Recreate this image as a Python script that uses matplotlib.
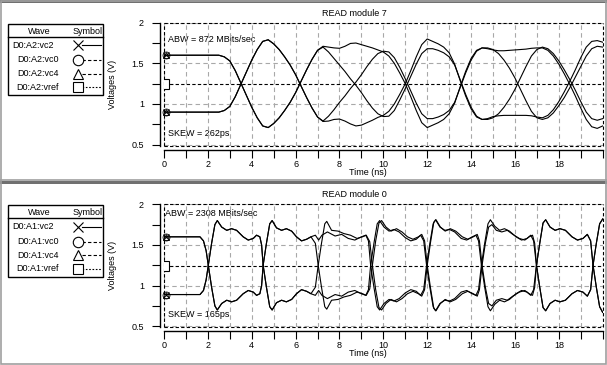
import numpy as np
import matplotlib.pyplot as plt
from matplotlib.patches import Rectangle

plt.rcParams['font.family'] = ['Liberation Sans', 'DejaVu Sans']
plt.rcParams['font.size'] = 6.5

# ---------------- READ module 7 (upper window), one sample every 0.25 ns ----------------
t_m7 = np.linspace(0, 20, 81)
m7_p1 = [1.60, 1.60, 1.60, 1.60, 1.60, 1.60, 1.60, 1.60, 1.60, 1.60, 1.60,
         1.58, 1.53, 1.41, 1.26, 1.11, 0.96, 0.83, 0.73, 0.71, 0.76, 0.83, 0.92,
         1.02, 1.14, 1.28, 1.42, 1.55, 1.66, 1.71, 1.70, 1.69, 1.685, 1.71, 1.745,
         1.75, 1.73, 1.71, 1.69, 1.665, 1.64, 1.59, 1.50, 1.38, 1.25, 1.09, 0.92,
         0.77, 0.71, 0.74, 0.77, 0.81, 0.88, 1.01, 1.21, 1.40, 1.56, 1.66, 1.69,
         1.68, 1.665, 1.655, 1.655, 1.66, 1.665, 1.67, 1.675, 1.685, 1.69, 1.69, 1.66,
         1.59, 1.49, 1.37, 1.24, 1.10, 0.95, 0.81, 0.72, 0.70, 0.73]
m7_n1 = [0.90, 0.90, 0.90, 0.90, 0.90, 0.90, 0.90, 0.90, 0.90, 0.90, 0.90,
         0.92, 0.97, 1.09, 1.24, 1.39, 1.54, 1.67, 1.77, 1.79, 1.74, 1.67, 1.58,
         1.48, 1.36, 1.22, 1.08, 0.95, 0.84, 0.785, 0.79, 0.81, 0.815, 0.79, 0.755,
         0.73, 0.74, 0.77, 0.80, 0.835, 0.86, 0.91, 1.00, 1.12, 1.25, 1.41, 1.58,
         1.73, 1.80, 1.77, 1.74, 1.70, 1.63, 1.49, 1.29, 1.10, 0.94, 0.84, 0.81,
         0.82, 0.845, 0.855, 0.86, 0.86, 0.86, 0.86, 0.86, 0.855, 0.84, 0.83, 0.86,
         0.93, 1.03, 1.15, 1.28, 1.42, 1.57, 1.70, 1.77, 1.78, 1.76]
m7_p2 = [1.60, 1.60, 1.60, 1.60, 1.60, 1.60, 1.60, 1.60, 1.60, 1.60, 1.60,
         1.58, 1.53, 1.41, 1.26, 1.11, 0.96, 0.83, 0.73, 0.71, 0.76, 0.83, 0.92,
         1.02, 1.14, 1.28, 1.42, 1.55, 1.66, 1.70, 1.64, 1.56, 1.48, 1.40, 1.31,
         1.23, 1.14, 1.04, 0.95, 0.88, 0.845, 0.85, 0.92, 1.05, 1.19, 1.34, 1.49,
         1.62, 1.68, 1.68, 1.66, 1.63, 1.58, 1.48, 1.30, 1.12, 0.96, 0.85, 0.81,
         0.81, 0.83, 0.88, 0.96, 1.06, 1.18, 1.32, 1.46, 1.59, 1.67, 1.70, 1.68,
         1.62, 1.53, 1.42, 1.30, 1.17, 1.03, 0.90, 0.82, 0.80, 0.82]
m7_n2 = [0.90, 0.90, 0.90, 0.90, 0.90, 0.90, 0.90, 0.90, 0.90, 0.90, 0.90,
         0.92, 0.97, 1.09, 1.24, 1.39, 1.54, 1.67, 1.77, 1.79, 1.74, 1.67, 1.58,
         1.48, 1.36, 1.22, 1.08, 0.95, 0.84, 0.79, 0.85, 0.93, 1.02, 1.10, 1.19,
         1.27, 1.36, 1.46, 1.55, 1.62, 1.65, 1.64, 1.57, 1.45, 1.31, 1.16, 1.01,
         0.88, 0.82, 0.82, 0.84, 0.87, 0.92, 1.02, 1.20, 1.38, 1.54, 1.65, 1.69,
         1.69, 1.67, 1.62, 1.54, 1.44, 1.32, 1.18, 1.04, 0.91, 0.83, 0.81, 0.83,
         0.89, 0.98, 1.08, 1.20, 1.33, 1.46, 1.59, 1.68, 1.71, 1.70]

# ---------------- READ module 0 (lower window), knots ----------------
t_m0_1 = [0, 1.64, 1.80, 1.92, 2.02, 2.17, 2.32, 2.43, 2.63, 2.86, 3.08, 3.31, 3.61, 3.84, 4.07, 4.22, 4.37, 4.45,
          4.52, 4.67, 4.82, 4.93, 5.13, 5.36, 5.58, 5.82, 6.04, 6.27, 6.50, 6.70, 6.90, 7.05, 7.20, 7.45, 7.80,
          8.10, 8.40, 8.70, 9.00, 9.20, 9.32,
          9.42, 9.57, 9.72, 9.83, 10.03, 10.26, 10.48, 10.72, 11.00, 11.25, 11.50, 11.70, 11.84,
          11.97, 12.12, 12.27, 12.38, 12.58, 12.80, 13.02, 13.25, 13.55, 13.80, 14.05, 14.22, 14.34,
          14.47, 14.62, 14.77, 14.88, 15.08, 15.30, 15.52, 15.75, 16.05, 16.30, 16.55, 16.72, 16.85,
          16.98, 17.13, 17.28, 17.40, 17.60, 17.83, 18.05, 18.30, 18.60, 18.85, 19.10, 19.30, 19.45,
          19.56, 19.71, 19.86, 20.00]
m0_p1 = [1.60, 1.60, 1.55, 1.43, 1.25, 0.98, 0.75, 0.70, 0.78, 0.82, 0.80, 0.82, 0.90, 0.94, 0.92, 0.88, 0.90, 1.00,
         1.25, 1.52, 1.76, 1.80, 1.71, 1.68, 1.70, 1.67, 1.60, 1.55, 1.57, 1.60, 1.62, 1.56, 1.62, 1.66, 1.61,
         1.63, 1.58, 1.56, 1.60, 1.62, 1.55,
         1.25, 0.98, 0.74, 0.70, 0.78, 0.83, 0.81, 0.84, 0.91, 0.95, 0.93, 0.88, 0.95,
         1.25, 1.52, 1.76, 1.81, 1.72, 1.68, 1.69, 1.66, 1.58, 1.56, 1.60, 1.62, 1.55,
         1.25, 0.98, 0.74, 0.69, 0.77, 0.82, 0.80, 0.83, 0.90, 0.94, 0.92, 0.88, 0.95,
         1.25, 1.52, 1.77, 1.81, 1.72, 1.68, 1.70, 1.68, 1.60, 1.56, 1.58, 1.63, 1.55,
         1.25, 0.98, 0.74, 0.67]
m0_n1 = [0.89, 0.89, 0.94, 1.07, 1.25, 1.52, 1.75, 1.80, 1.72, 1.68, 1.70, 1.68, 1.60, 1.56, 1.58, 1.62, 1.60, 1.50,
         1.25, 0.98, 0.74, 0.70, 0.79, 0.82, 0.80, 0.83, 0.90, 0.95, 0.93, 0.90, 0.88, 0.94, 0.88, 0.84, 0.89,
         0.87, 0.92, 0.94, 0.90, 0.88, 0.95,
         1.25, 1.52, 1.76, 1.80, 1.72, 1.67, 1.69, 1.66, 1.59, 1.55, 1.57, 1.62, 1.55,
         1.25, 0.98, 0.74, 0.69, 0.78, 0.82, 0.81, 0.84, 0.92, 0.94, 0.90, 0.88, 0.95,
         1.25, 1.52, 1.76, 1.81, 1.73, 1.68, 1.70, 1.67, 1.60, 1.56, 1.58, 1.62, 1.55,
         1.25, 0.98, 0.73, 0.69, 0.78, 0.82, 0.80, 0.82, 0.90, 0.94, 0.92, 0.87, 0.95,
         1.25, 1.52, 1.76, 1.82]
t_m0_2 = [0, 1.64, 1.80, 1.92, 2.02, 2.17, 2.32, 2.43, 2.63, 2.86, 3.08, 3.31, 3.61, 3.84, 4.07, 4.22, 4.37, 4.45,
          4.52, 4.67, 4.82, 4.93, 5.13, 5.36, 5.58, 5.82, 6.04, 6.27, 6.50, 6.70, 6.90,
          7.03, 7.18, 7.33, 7.42, 7.64, 7.94, 8.20, 8.50, 8.80, 9.05, 9.22, 9.38,
          9.50, 9.65, 9.80, 9.92, 10.12, 10.35, 10.60, 10.85, 11.10, 11.35, 11.60, 11.75, 11.88,
          12.00, 12.15, 12.30, 12.40, 12.60, 12.82, 13.05, 13.30, 13.60, 13.85, 14.10, 14.28, 14.38,
          14.50, 14.65, 14.80, 14.95, 15.15, 15.40, 15.65, 15.90, 16.20, 16.45, 16.65, 16.80, 16.90,
          16.98, 17.13, 17.28, 17.40, 17.60, 17.83, 18.05, 18.30, 18.60, 18.85, 19.10, 19.30, 19.45,
          19.56, 19.71, 19.86, 20.00]
m0_p2 = [1.60, 1.60, 1.55, 1.43, 1.25, 0.98, 0.75, 0.70, 0.78, 0.82, 0.80, 0.82, 0.90, 0.94, 0.92, 0.88, 0.90, 1.00,
         1.25, 1.52, 1.76, 1.80, 1.71, 1.68, 1.70, 1.67, 1.60, 1.55, 1.57, 1.60, 1.52,
         1.25, 0.98, 0.74, 0.71, 0.82, 0.83, 0.86, 0.88, 0.92, 0.90, 0.88, 0.96,
         1.25, 1.55, 1.77, 1.80, 1.72, 1.67, 1.70, 1.66, 1.60, 1.57, 1.60, 1.63, 1.55,
         1.25, 0.97, 0.72, 0.69, 0.78, 0.83, 0.80, 0.83, 0.90, 0.93, 0.90, 0.87, 0.95,
         1.25, 1.52, 1.72, 1.75, 1.68, 1.66, 1.68, 1.63, 1.58, 1.56, 1.60, 1.62, 1.52,
         1.25, 0.98, 0.73, 0.69, 0.78, 0.82, 0.80, 0.82, 0.90, 0.94, 0.92, 0.87, 0.95,
         1.25, 1.52, 1.76, 1.82]
m0_n2 = [0.89, 0.89, 0.94, 1.07, 1.25, 1.52, 1.75, 1.80, 1.72, 1.68, 1.70, 1.68, 1.60, 1.56, 1.58, 1.62, 1.60, 1.50,
         1.25, 0.98, 0.74, 0.70, 0.79, 0.82, 0.80, 0.83, 0.90, 0.95, 0.93, 0.90, 0.98,
         1.25, 1.52, 1.76, 1.79, 1.68, 1.67, 1.64, 1.62, 1.58, 1.60, 1.62, 1.54,
         1.25, 0.95, 0.73, 0.70, 0.78, 0.83, 0.80, 0.84, 0.90, 0.93, 0.90, 0.87, 0.95,
         1.25, 1.53, 1.78, 1.81, 1.72, 1.67, 1.70, 1.67, 1.60, 1.57, 1.60, 1.63, 1.55,
         1.25, 0.98, 0.78, 0.75, 0.82, 0.84, 0.82, 0.87, 0.92, 0.94, 0.90, 0.88, 0.98,
         1.25, 1.52, 1.77, 1.81, 1.72, 1.68, 1.70, 1.68, 1.60, 1.56, 1.58, 1.63, 1.55,
         1.25, 0.98, 0.74, 0.67]

t_vref = [0, 20]
vref = [1.245, 1.245]

W, H = 607, 365
YMIN = 0.487
MARK_T = 0.1
GRID = dict(color='#a8a8a8', lw=0.8, ls=(0, (4, 3)))
FRAME = dict(color='black', lw=0.8, ls=(0, (3, 2)))

fig = plt.figure(figsize=(W / 100, H / 100), dpi=100)
bg = fig.add_axes([0, 0, 1, 1], zorder=0)
bg.set_xlim(0, W)
bg.set_ylim(H, 0)
bg.axis('off')


def legend_table(dy, prefix):
    bg.add_patch(Rectangle((7.5, 23.5 + dy), 95, 71.5, fill=False, ec='black', lw=1))
    bg.plot([7.5, 102.5], [36.7 + dy] * 2, color='black', lw=1)
    bg.text(39.5, 31 + dy, 'Wave', ha='center', va='center')
    bg.text(88, 31 + dy, 'Symbol', ha='center', va='center')
    rows = [('vc2', 12.7, 45, 'x', '-'), ('vc0', 17.3, 60, 'o', (0, (3, 2))),
            ('vc4', 17.3, 73.5, '^', (0, (3, 2))), ('vref', 16, 87.3, 's', (0, (1.5, 1.5)))]
    for name, x, y, mk, ls in rows:
        bg.text(x, y + dy, prefix + name, ha='left', va='center')
        bg.plot([82, 101], [y + dy] * 2, color='black', lw=0.8, ls=ls)
        bg.plot([77.5], [y + dy], marker=mk, ms=7.5, mfc='white', mec='black', mew=0.8, ls='none')


def panel(dy, title, prefix, abw, abw_xy, skew, traces):
    ax = fig.add_axes([164 / W, 1 - (145.7 + dy) / H, 438.7 / W, 123 / H], zorder=1)
    ax.patch.set_alpha(0)
    ax.set_xlim(0, 20)
    ax.set_ylim(YMIN, 2)
    ax.set_xticks(range(0, 19, 2))
    ax.set_xticks(list(range(1, 20, 2)) + [20], minor=True)
    ax.set_yticks([0.5, 1, 1.5, 2])
    ax.set_yticklabels(['0.5', '1', '1.5', '2'])
    ax.set_yticks([0.75, 1.25, 1.75], minor=True)
    ax.grid(axis='x', which='both', **GRID)
    ax.grid(axis='y', which='major', **GRID)
    ax.set_axisbelow(True)
    for s in ['top', 'right']:
        ax.spines[s].set_visible(False)
    for s in ['left', 'bottom']:
        ax.spines[s].set_position(('outward', 3))
        ax.spines[s].set_linewidth(1)
    ax.tick_params(which='both', direction='out', length=5.5, width=0.8, labelsize=6.5)
    ax.tick_params(axis='y', pad=6)
    ax.tick_params(axis='x', pad=1.5)
    for v in (2, YMIN):
        ax.axhline(v, clip_on=False, **FRAME)
    for v in (0, 20):
        ax.axvline(v, clip_on=False, **FRAME)

    ax.plot(t_vref, vref, **FRAME)
    for t, v in traces:
        ax.plot(t, v, color='black', lw=0.8)
    # start-point symbols
    for t, v in traces[:2]:
        for mk in ['x', 'o', '^']:
            ax.plot([MARK_T], [v[0]], marker=mk, ms=5, mfc='none', mec='black', mew=0.6,
                    ls='none', clip_on=False)
    ax.plot([t_vref[0]], [vref[0]], marker='s', ms=7, mfc='white', mec='black', mew=0.8,
            ls='none', clip_on=True)

    ax.set_ylabel('Voltages (V)', fontsize=6.5)
    ax.yaxis.set_label_coords(-0.107, 0.5)
    ax.set_xlabel('Time (ns)', fontsize=6.5)
    ax.xaxis.set_label_coords(0.465, -0.18)

    bg.text(354.5, 13 + dy, title, ha='center', va='center')
    bg.text(abw_xy[0], abw_xy[1] + dy, abw, ha='left', va='center')
    bg.text(168, 133 + dy, skew, ha='left', va='center')
    legend_table(dy, prefix)


panel(0, 'READ module 7', 'D0:A2:', 'ABW = 872 MBits/sec', (168, 40), 'SKEW = 262ps',
      [(t_m7, m7_p1), (t_m7, m7_n1), (t_m7, m7_p2), (t_m7, m7_n2)])
panel(181.6, 'READ module 0', 'D0:A1:', 'ABW = 2308 MBits/sec', (165, 32), 'SKEW = 165ps',
      [(t_m0_1, m0_p1), (t_m0_1, m0_n1), (t_m0_2, m0_p2), (t_m0_2, m0_n2)])

# window borders
for y0 in (0, 181):
    bg.add_patch(Rectangle((0, y0), W, 2.5, color='#707070', lw=0))
bg.add_patch(Rectangle((0.5, 0.5), W - 1.5, H - 1.5, fill=False, ec='#a0a0a0', lw=1.2))
bg.plot([0, W], [179.5, 179.5], color='#a0a0a0', lw=1.2)

fig.savefig('out.png', dpi=100)
